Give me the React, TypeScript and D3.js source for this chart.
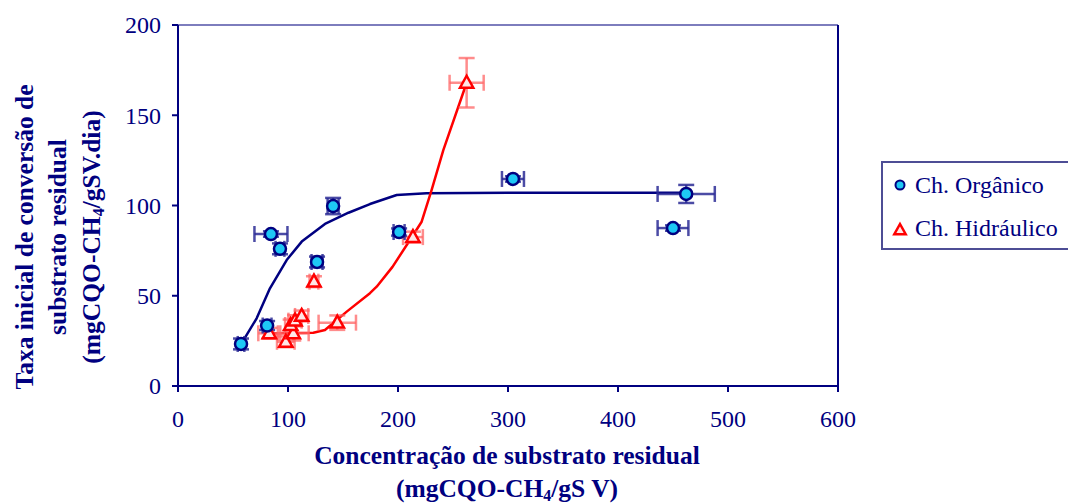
import React from "react";
import * as d3 from "d3";

const xTicks = [0, 100, 200, 300, 400, 500, 600];
const yTicks = [0, 50, 100, 150, 200];

// Ch. Orgânico: x, y, x error, y error
const orgX = [57.3, 81, 84.5, 92.7, 126.4, 141, 201, 304.5, 450, 462];
const orgY = [23.3, 33.5, 84.2, 76, 68.7, 99.7, 85.3, 114.7, 87.5, 106.4];
const orgXErr = [3, 4, 15, 4, 5, 5, 5, 10, 14, 26];
const orgYErr = [3, 2.5, 1.5, 3, 3, 4.5, 2, 1.5, 1.5, 5];

// Ch. Hidráulico
const hidX = [83, 98, 104.8, 102.4, 106.4, 112.4, 123.6, 144.8, 213.6, 262.4];
const hidY = [29.2, 24.5, 29.2, 33.8, 36.2, 38.8, 57.8, 35.1, 82.5, 168];
const hidXErr = [10, 8, 14, 5, 6, 6, 4, 17, 9, 15.5];
const hidYErr = [3, 3, 4, 3, 3, 3, 3, 4, 3, 13.7];

// fitted curves
const orgCurveX = [57.9, 71.5, 83.6, 98.8, 112.5, 133.6, 155, 174.5, 198.8, 226, 300, 400, 462];
const orgCurveY = [23.7, 37.5, 54.1, 69.8, 80, 89.8, 96, 100.8, 105.8, 106.8, 107, 107, 107];
const hidCurveX = [83, 89.7, 123, 133.6, 153.4, 174.5, 180.6, 195, 210.9, 221.5, 230.6, 241.2, 262.4];
const hidCurveY = [29.2, 29.2, 29.5, 31, 41.2, 51.4, 55, 66, 80.9, 91, 108.6, 130.7, 168];

const NAVY = "#000080";
const FONT = "'Liberation Serif', 'Times New Roman', serif";

export default function App() {
  const x = d3.scaleLinear().domain([0, 600]).range([178, 838]);
  const y = d3.scaleLinear().domain([0, 200]).range([386, 25]);

  const line = d3
    .line<[number, number]>()
    .x((d) => x(d[0]))
    .y((d) => y(d[1]))
    .curve(d3.curveLinear);

  const orgCurve = orgCurveX.map((v, i) => [v, orgCurveY[i]] as [number, number]);
  const hidCurve = hidCurveX.map((v, i) => [v, hidCurveY[i]] as [number, number]);

  const tri = (cx: number, cy: number, s: number) =>
    `M${cx},${cy - s}L${cx + s * 0.95},${cy + s * 0.7}L${cx - s * 0.95},${cy + s * 0.7}Z`;

  const errBars = (
    xs: number[],
    ys: number[],
    xe: number[],
    ye: number[],
    color: string,
    op: number,
    key: string
  ) =>
    xs.map((xv, i) => {
      const cx = x(xv);
      const cy = y(ys[i]);
      const x0 = x(xv - xe[i]);
      const x1 = x(xv + xe[i]);
      const y0 = y(ys[i] - ye[i]);
      const y1 = y(ys[i] + ye[i]);
      const c = 8;
      return (
        <g key={key + i} stroke={color} strokeWidth={2.5} strokeOpacity={op} fill="none">
          <line x1={x0} x2={x1} y1={cy} y2={cy} />
          <line x1={x0} x2={x0} y1={cy - c} y2={cy + c} />
          <line x1={x1} x2={x1} y1={cy - c} y2={cy + c} />
          <line x1={cx} x2={cx} y1={y0} y2={y1} />
          <line x1={cx - c} x2={cx + c} y1={y0} y2={y0} />
          <line x1={cx - c} x2={cx + c} y1={y1} y2={y1} />
        </g>
      );
    });

  return (
    <svg
      width={1068}
      height={503}
      style={{ position: "absolute", left: 0, top: 0, background: "#fff" }}
      fontFamily={FONT}
    >
      <rect x={0} y={0} width={1068} height={503} fill="#fff" />
      {/* plot frame */}
      <line x1={178} x2={838} y1={25} y2={25} stroke="#7d7dbd" strokeWidth={2} />
      <line x1={838} x2={838} y1={25} y2={386} stroke={NAVY} strokeWidth={2} />
      <line x1={178} x2={178} y1={25} y2={387} stroke={NAVY} strokeWidth={2} />
      <line x1={172} x2={839} y1={386} y2={386} stroke={NAVY} strokeWidth={2} />

      {yTicks.map((t) => (
        <g key={"y" + t}>
          <line x1={172} x2={178} y1={y(t)} y2={y(t)} stroke={NAVY} strokeWidth={2} />
          <text x={161} y={y(t)} dy="0.35em" textAnchor="end" fontSize={24} fill={NAVY}>
            {t}
          </text>
        </g>
      ))}
      {xTicks.map((t) => (
        <g key={"x" + t}>
          <line x1={x(t)} x2={x(t)} y1={386} y2={392} stroke={NAVY} strokeWidth={2} />
          <text x={x(t)} y={419} dy="0.35em" textAnchor="middle" fontSize={24} fill={NAVY}>
            {t}
          </text>
        </g>
      ))}

      {/* curves */}
      <path d={line(orgCurve) || ""} fill="none" stroke={NAVY} strokeWidth={2.5} strokeLinejoin="round" />
      <path d={line(hidCurve) || ""} fill="none" stroke="#ff0000" strokeWidth={2.5} strokeLinejoin="round" />

      {/* error bars */}
      {errBars(hidX, hidY, hidXErr, hidYErr, "#ff6666", 0.75, "he")}
      {errBars(orgX, orgY, orgXErr, orgYErr, "#2b2b95", 0.85, "oe")}

      {/* markers */}
      {hidX.map((v, i) => (
        <path
          key={"h" + i}
          d={tri(x(v), y(hidY[i]), 7)}
          fill="#ffe6e6"
          stroke="#ff0000"
          strokeWidth={2.5}
        />
      ))}
      {orgX.map((v, i) => (
        <circle
          key={"o" + i}
          cx={x(v)}
          cy={y(orgY[i])}
          r={6}
          fill="#1ec8f5"
          stroke={NAVY}
          strokeWidth={2.5}
        />
      ))}

      {/* legend */}
      <rect x={882} y={162} width={200} height={87} fill="#fff" stroke="#4d4d95" strokeWidth={2} />
      <circle cx={900} cy={185} r={4.5} fill="#1ec8f5" stroke={NAVY} strokeWidth={2} />
      <text x={915} y={185} dy="0.35em" fontSize={24} fill={NAVY}>
        Ch. Orgânico
      </text>
      <path d={tri(900, 230, 6)} fill="#ffe6e6" stroke="#ff0000" strokeWidth={2.5} />
      <text x={915} y={228} dy="0.35em" fontSize={24} fill={NAVY}>
        Ch. Hidráulico
      </text>

      {/* x title */}
      <text x={507} y={455} dy="0.35em" textAnchor="middle" fontSize={25.5} fontWeight="bold" fill={NAVY}>
        Concentração de substrato residual
      </text>
      <text x={507} y={488} dy="0.35em" textAnchor="middle" fontSize={25.5} fontWeight="bold" fill={NAVY}>
        (mgCQO-CH
        <tspan fontSize={16} dy="0.25em">4</tspan>
        <tspan dy="-0.16em">/gS V)</tspan>
      </text>

      {/* y title */}
      <g transform="translate(0,237) rotate(-90)">
        <text x={0} y={24} dy="0.35em" textAnchor="middle" fontSize={25.5} fontWeight="bold" fill={NAVY}>
          Taxa inicial de conversão de
        </text>
        <text x={0} y={57} dy="0.35em" textAnchor="middle" fontSize={25.5} fontWeight="bold" fill={NAVY}>
          substrato residual
        </text>
        <text x={0} y={91} dy="0.35em" textAnchor="middle" fontSize={25.5} fontWeight="bold" fill={NAVY}>
          (mgCQO-CH
          <tspan fontSize={16} dy="0.25em">4</tspan>
          <tspan dy="-0.16em">/gSV.dia)</tspan>
        </text>
      </g>
    </svg>
  );
}
